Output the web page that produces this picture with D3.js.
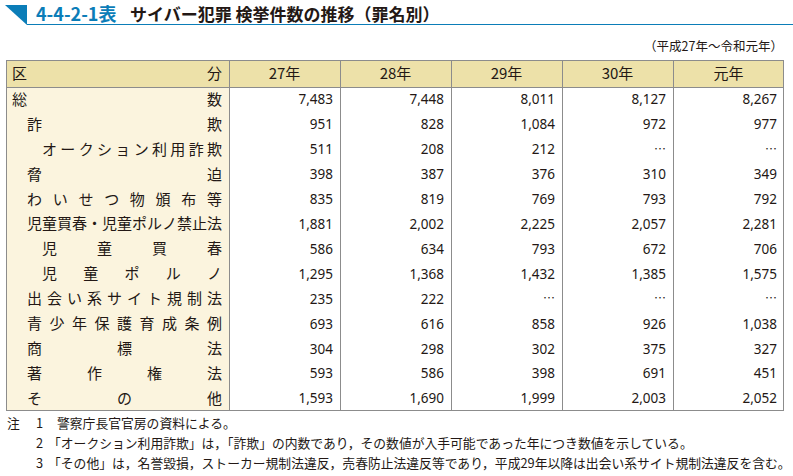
<!DOCTYPE html>
<meta charset="utf-8">
<script src="https://cdn.jsdelivr.net/npm/d3@7"></script>
<style>
  body { margin: 0; background: #fff; }
  text { font-family: "Noto Sans CJK JP", "Noto Sans", sans-serif; }
</style>
<body>
<script>
// 罪名別 検挙件数
const years = ['27年', '28年', '29年', '30年', '元年'];
const labels = ['総数', '詐欺', 'オークション利用詐欺', '脅迫', 'わいせつ物頒布等',
  '児童買春・児童ポルノ禁止法', '児童買春', '児童ポルノ', '出会い系サイト規制法',
  '青少年保護育成条例', '商標法', '著作権法', 'その他'];
const levels = [0, 1, 2, 1, 1, 1, 2, 2, 1, 1, 1, 1, 1];
// null = 数値なし（…）
const v27 = [7483, 951, 511, 398, 835, 1881, 586, 1295, 235, 693, 304, 593, 1593];
const v28 = [7448, 828, 208, 387, 819, 2002, 634, 1368, 222, 616, 298, 586, 1690];
const v29 = [8011, 1084, 212, 376, 769, 2225, 793, 1432, null, 858, 302, 398, 1999];
const v30 = [8127, 972, null, 310, 793, 2057, 672, 1385, null, 926, 375, 691, 2003];
const v01 = [8267, 977, null, 349, 792, 2281, 706, 1575, null, 1038, 327, 451, 2052];
const series = [v27, v28, v29, v30, v01];
const notes = [
  ['注', '1', '警察庁長官官房の資料による。'],
  ['', '2', '「オークション利用詐欺」は，「詐欺」の内数であり，その数値が入手可能であった年につき数値を示している。'],
  ['', '3', '「その他」は，名誉毀損，ストーカー規制法違反，売春防止法違反等であり，平成29年以降は出会い系サイト規制法違反を含む。']
];

const W = 793, H = 476;
const svg = d3.select('body').append('svg').attr('width', W).attr('height', H);

const blue = '#0b7db8', line = '#8c8c8c';
const tLeft = 6, labelRight = 229, tRight = 784;
const tTop = 60, headBottom = 87, tBottom = 411;

// title
svg.append('path').attr('d', `M5,5 L27,5 L27,25 Z`).attr('fill', blue);
svg.append('line').attr('x1', 27).attr('x2', 793).attr('y1', 24.5).attr('y2', 24.5)
  .attr('stroke', blue).attr('stroke-width', 1.2);
svg.append('text').attr('x', 36).attr('y', 21).attr('fill', blue)
  .attr('font-size', 18).attr('font-weight', 'bold').text('4-4-2-1表');
svg.append('text').attr('x', 130).attr('y', 21).attr('fill', '#231815')
  .attr('font-size', 17).attr('font-weight', 'bold').text('サイバー犯罪 検挙件数の推移（罪名別）');
svg.append('text').attr('x', 783).attr('y', 51).attr('text-anchor', 'end')
  .attr('font-size', 12.5).attr('fill', '#231815').text('（平成27年～令和元年）');

const x = d3.scaleBand().domain(years).range([labelRight, tRight]);
const y = d3.scaleBand().domain(d3.range(labels.length)).range([headBottom, tBottom]);

// backgrounds
svg.append('rect').attr('x', tLeft).attr('y', tTop).attr('width', tRight - tLeft)
  .attr('height', headBottom - tTop).attr('fill', '#ede1a9');
svg.append('rect').attr('x', tLeft).attr('y', headBottom).attr('width', labelRight - tLeft)
  .attr('height', tBottom - headBottom).attr('fill', '#fbf4de');

// grid
const g = svg.append('g').attr('stroke', line).attr('stroke-width', 1).attr('fill', 'none');
g.append('rect').attr('x', tLeft + 0.5).attr('y', tTop + 0.5)
  .attr('width', tRight - tLeft - 1).attr('height', tBottom - tTop - 1);
g.append('line').attr('x1', tLeft).attr('x2', tRight).attr('y1', headBottom + 0.5).attr('y2', headBottom + 0.5);
g.selectAll('.vl').data(years).join('line')
  .attr('x1', d => Math.round(x(d)) + 0.5).attr('x2', d => Math.round(x(d)) + 0.5)
  .attr('y1', tTop).attr('y2', tBottom);

// distributed (均等割付) label text
const fs = 15;
function spread(sel, str, x0, x1, cy) {
  const chars = Array.from(str);
  const n = chars.length;
  const step = n > 1 ? (x1 - x0 - fs) / (n - 1) : 0;
  sel.selectAll(null).data(chars).join('text')
    .attr('x', (c, i) => x0 + i * step).attr('y', cy)
    .attr('dy', '0.36em').attr('font-size', fs).attr('fill', '#231815').text(c => c);
}
const indent = [12, 27, 42];
spread(svg.append('g'), '区分', 12, 222, (tTop + headBottom) / 2);
labels.forEach((l, i) => {
  spread(svg.append('g'), l, indent[levels[i]], 222, y(i) + y.bandwidth() / 2);
});

// header years
svg.selectAll('.yr').data(years).join('text')
  .attr('x', d => x(d) + x.bandwidth() / 2).attr('y', (tTop + headBottom) / 2)
  .attr('dy', '0.36em').attr('text-anchor', 'middle')
  .attr('font-size', 15).attr('fill', '#231815').text(d => d);

// values
const fmt = d3.format(',');
years.forEach((yr, j) => {
  svg.append('g').selectAll('text').data(series[j]).join('text')
    .attr('x', x(yr) + x.bandwidth() - 7).attr('y', (d, i) => y(i) + y.bandwidth() / 2)
    .attr('dy', '0.36em').attr('text-anchor', 'end')
    .style('font-family', d => d == null ? '"Noto Sans CJK JP", sans-serif' : '"Noto Sans", sans-serif')
    .attr('font-size', d => d == null ? 12 : 13.5).attr('fill', '#231815')
    .text(d => d == null ? '…' : fmt(d));
});

// notes
const ng = svg.append('g').attr('font-size', 12.8).attr('fill', '#231815');
notes.forEach((n, i) => {
  const yy = 428 + i * 20;
  ng.append('text').attr('x', 7).attr('y', yy).text(n[0]);
  ng.append('text').attr('x', 36).attr('y', yy).text(n[1]);
  ng.append('text').attr('x', i === 0 ? 57 : 48).attr('y', yy).text(n[2]);
});
</script>
